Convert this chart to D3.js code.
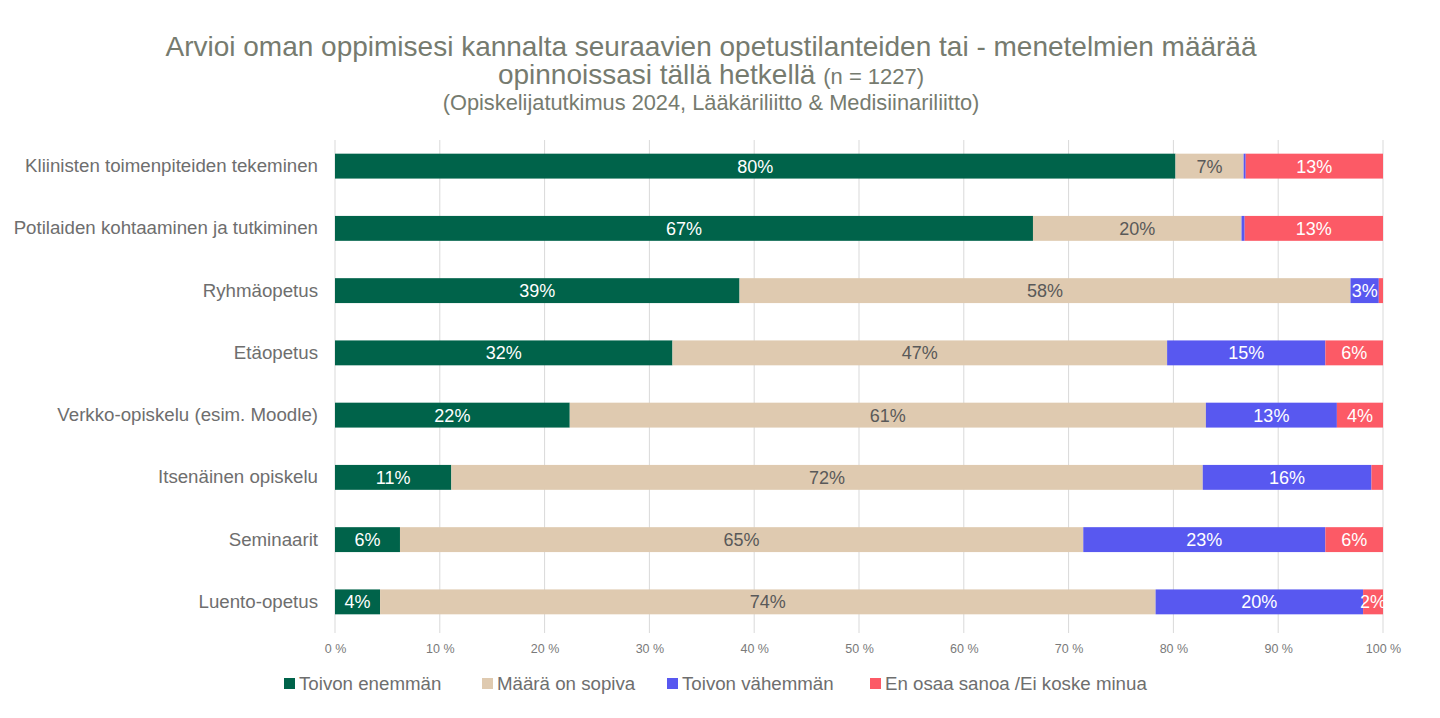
<!DOCTYPE html>
<html><head><meta charset="utf-8">
<script src="https://cdn.jsdelivr.net/npm/d3@7"></script>
<style>body{margin:0;background:#fff;}svg{display:block;font-family:"Liberation Sans",Arial,sans-serif;}</style>
</head><body><svg id="c" width="1440" height="718"></svg>
<script>
const categories = ["Kliinisten toimenpiteiden tekeminen","Potilaiden kohtaaminen ja tutkiminen","Ryhmäopetus","Etäopetus","Verkko-opiskelu (esim. Moodle)","Itsenäinen opiskelu","Seminaarit","Luento-opetus"];
const seriesNames = ["Toivon enemmän","Määrä on sopiva","Toivon vähemmän","En osaa sanoa /Ei koske minua"];
const toivonEnemman = [80.2,66.6,38.6,32.2,22.4,11.1,6.2,4.3];
const maaraSopiva = [6.5,19.9,58.3,47.2,60.7,71.7,65.2,74.0];
const toivonVahemman = [0.2,0.3,2.7,15.1,12.5,16.1,23.1,19.8];
const enOsaa = [13.1,13.2,0.4,5.5,4.4,1.1,5.5,1.9];
const xTicks = [0,10,20,30,40,50,60,70,80,90,100];
const colors = ["#00634a","#dfcab0","#5858f0","#fc5a66"];
const labelColors = ["#ffffff","#595959","#ffffff","#ffffff"];

const svg = d3.select("#c");
const L = 335, R = 1383, T = 135, B = 633;
const x = d3.scaleLinear().domain([0,100]).range([L,R]);
const y = d3.scaleBand().domain(categories).range([T,B]).paddingInner(0.6).paddingOuter(0.3);

// title
const title = svg.append("g").attr("fill","#767b6f").attr("text-anchor","middle");
title.append("text").attr("x",711).attr("y",56).attr("font-size",28).text("Arvioi oman oppimisesi kannalta seuraavien opetustilanteiden tai - menetelmien määrää");
const t2 = title.append("text").attr("x",711).attr("y",84).attr("font-size",28);
t2.append("tspan").text("opinnoissasi tällä hetkellä ");
t2.append("tspan").attr("font-size",22).text("(n = 1227)");
title.append("text").attr("x",711).attr("y",110).attr("font-size",21.8).text("(Opiskelijatutkimus 2024, Lääkäriliitto & Medisiinariliitto)");

// grid
svg.append("g").selectAll("line").data(xTicks).join("line")
  .attr("x1",d=>x(d)).attr("x2",d=>x(d)).attr("y1",T+5).attr("y2",B)
  .attr("stroke","#d9d9d9").attr("stroke-width",1);

// x axis
const xa = svg.append("g").attr("transform",`translate(0,${B})`)
  .call(d3.axisBottom(x).tickValues(xTicks).tickFormat(d=>d+" %").tickSize(0).tickPadding(11));
xa.select(".domain").remove();
xa.selectAll("text").attr("fill","#7a7a7a").attr("font-size",12.5).attr("font-family","Liberation Sans,Arial,sans-serif");

// y labels
const ya = svg.append("g").attr("transform",`translate(${L},0)`)
  .call(d3.axisLeft(y).tickSize(0).tickPadding(17));
ya.select(".domain").remove();
ya.selectAll("text").attr("fill","#6e6e6e").attr("font-size",18.7).attr("font-family","Liberation Sans,Arial,sans-serif");

// stack
const rows = categories.map((c,i)=>({cat:c, s0:toivonEnemman[i], s1:maaraSopiva[i], s2:toivonVahemman[i], s3:enOsaa[i]}));
const stack = d3.stack().keys(["s0","s1","s2","s3"])(rows);
const g = svg.append("g");
stack.forEach((layer,k)=>{
  const lg = g.append("g");
  lg.selectAll("rect").data(layer).join("rect")
    .attr("x",d=>x(d[0])).attr("width",d=>x(d[1])-x(d[0]))
    .attr("y",d=>y(d.data.cat)).attr("height",y.bandwidth())
    .attr("fill",colors[k]);
  lg.selectAll("text").data(layer.filter(d=>d[1]-d[0]>=1.5)).join("text")
    .attr("x",d=>(x(d[0])+x(d[1]))/2).attr("y",d=>y(d.data.cat)+y.bandwidth()/2)
    .attr("dy","0.36em").attr("text-anchor","middle")
    .attr("font-size",18).attr("fill",labelColors[k])
    .text(d=>Math.round(d[1]-d[0])+"%");
});

// legend
const legX = [284,482,667,870];
const lg = svg.append("g");
seriesNames.forEach((n,i)=>{
  lg.append("rect").attr("x",legX[i]).attr("y",678).attr("width",11).attr("height",11).attr("fill",colors[i]);
  lg.append("text").attr("x",legX[i]+15).attr("y",690).attr("font-size",18.7).attr("fill","#6e6e6e").text(n);
});
</script></body></html>
